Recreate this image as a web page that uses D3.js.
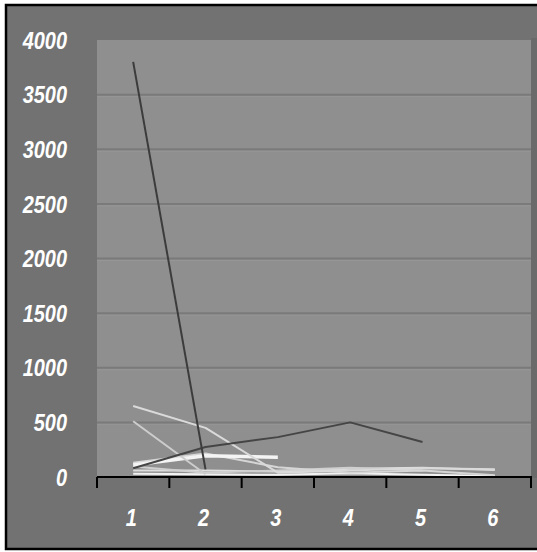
<!DOCTYPE html>
<html>
<head>
<meta charset="utf-8">
<script src="https://cdn.jsdelivr.net/npm/d3@7"></script>
<style>
  html, body { margin: 0; padding: 0; background: #ffffff; }
  svg { display: block; }
</style>
</head>
<body>
<div id="chart"></div>
<script>
// Categories along the x axis
const categories = ["1", "2", "3", "4", "5", "6"];
// Y axis tick values
const yTicks = [0, 500, 1000, 1500, 2000, 2500, 3000, 3500, 4000];

// One array per series (values per category, shorter arrays stop early)
const seriesA = [3800, 70];
const seriesB = [80, 275, 365, 500, 320];
const seriesC = [650, 450, 40, 60, 80, 70];
const seriesD = [510, 25];
const seriesE = [110, 195, 180];
const seriesF = [130, 215, 90, 40, 60, 15];
const seriesG = [60, 60, 50, 75, 85, 65];
const seriesH = [30, 25, 20, 35, 20, 10];
const seriesI = [95, 40, 60, 85, 60];

const seriesList = [
  { values: seriesH, color: "#f2f2f2", width: 2 },
  { values: seriesG, color: "#dedede", width: 2 },
  { values: seriesI, color: "#cfcfcf", width: 2 },
  { values: seriesF, color: "#d6d6d6", width: 2 },
  { values: seriesE, color: "#f4f4f4", width: 3.5 },
  { values: seriesD, color: "#cdcdcd", width: 2 },
  { values: seriesC, color: "#dadada", width: 2 },
  { values: seriesB, color: "#454545", width: 2 },
  { values: seriesA, color: "#3c3c3c", width: 2 }
];

const W = 537, H = 552;
const labelFont = "'Liberation Sans', Arial, sans-serif";
const squeeze = 0.83; // horizontal condensing of the label glyphs

const svg = d3.select("#chart").append("svg")
  .attr("width", W).attr("height", H);

// Outer frame
svg.append("rect")
  .attr("x", 6).attr("y", 5).attr("width", W + 10).attr("height", 544)
  .attr("fill", "#727272").attr("stroke", "#000").attr("stroke-width", 2.5);
// Slightly darker strip to the right of the plot
svg.append("rect")
  .attr("x", 531).attr("y", 38).attr("width", 10).attr("height", 440)
  .attr("fill", "#6a6a6a");

const plot = { left: 97, right: 531, top: 40, bottom: 477 };

const x = d3.scaleBand().domain(categories).range([plot.left, plot.right]);
const y = d3.scaleLinear().domain([0, 4000]).range([plot.bottom, plot.top]);
const cx = c => x(c) + x.bandwidth() / 2;

// Plot area
svg.append("rect")
  .attr("x", plot.left).attr("y", plot.top)
  .attr("width", plot.right - plot.left).attr("height", plot.bottom - plot.top)
  .attr("fill", "#8f8f8f");

// Horizontal gridlines (dark line with a faint light edge below)
const grid = svg.append("g");
const gridVals = yTicks.filter(t => t > 0 && t < 4000);
grid.selectAll("line.hi")
  .data(gridVals)
  .join("line")
  .attr("class", "hi")
  .attr("x1", plot.left).attr("x2", plot.right)
  .attr("y1", d => y(d) + 2).attr("y2", d => y(d) + 2)
  .attr("stroke", "#969696").attr("stroke-width", 1);
grid.selectAll("line.lo")
  .data(gridVals)
  .join("line")
  .attr("class", "lo")
  .attr("x1", plot.left).attr("x2", plot.right)
  .attr("y1", d => y(d)).attr("y2", d => y(d))
  .attr("stroke", "#7a7a7a").attr("stroke-width", 2);

// Y axis labels
svg.append("g").selectAll("text")
  .data(yTicks)
  .join("text")
  .attr("transform", d => `translate(67,${y(d)}) scale(${squeeze},1)`)
  .attr("dy", "0.36em")
  .attr("text-anchor", "end")
  .attr("font-family", labelFont)
  .attr("font-size", 24).attr("font-weight", "bold").attr("font-style", "italic")
  .attr("fill", "#ffffff")
  .text(d => d);

// Series lines
const line = d3.line()
  .x((d, i) => cx(categories[i]))
  .y(d => y(d));

svg.append("g").selectAll("path")
  .data(seriesList)
  .join("path")
  .attr("d", s => line(s.values))
  .attr("fill", "none")
  .attr("stroke", s => s.color)
  .attr("stroke-width", s => s.width)
  .attr("stroke-linejoin", "round");

// X axis with category boundaries as ticks
const xAxis = svg.append("g");
xAxis.append("line")
  .attr("x1", plot.left).attr("x2", plot.right + 1)
  .attr("y1", plot.bottom).attr("y2", plot.bottom)
  .attr("stroke", "#000").attr("stroke-width", 2);
const boundaries = categories.map(c => x(c)).concat([x(categories[categories.length - 1]) + x.bandwidth()]);
xAxis.selectAll("line.tick")
  .data(boundaries)
  .join("line")
  .attr("class", "tick")
  .attr("x1", d => d).attr("x2", d => d)
  .attr("y1", plot.bottom).attr("y2", plot.bottom + 11)
  .attr("stroke", "#000").attr("stroke-width", 2);

xAxis.selectAll("text")
  .data(categories)
  .join("text")
  .attr("transform", d => `translate(${cx(d) - 2},517) scale(${squeeze},1)`)
  .attr("dy", "0.36em")
  .attr("text-anchor", "middle")
  .attr("font-family", labelFont)
  .attr("font-size", 24).attr("font-weight", "bold").attr("font-style", "italic")
  .attr("fill", "#ffffff")
  .text(d => d);
</script>
</body>
</html>
